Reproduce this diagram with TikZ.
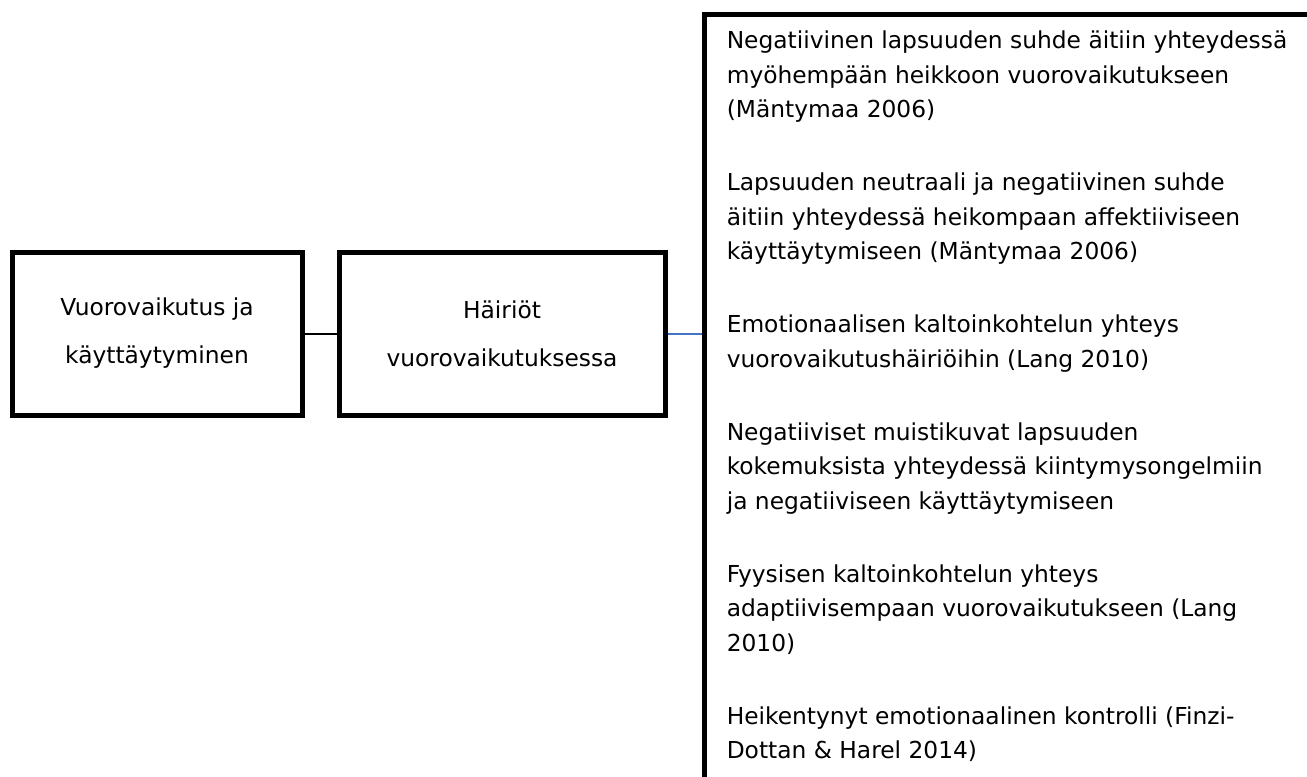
\documentclass[tikz,border=0pt]{standalone}
\usepackage{fontspec}
\setmainfont{DejaVu Sans}
\definecolor{linkblue}{HTML}{4472C4}
\begin{document}
\begin{tikzpicture}[x=0.75pt,y=-0.75pt,
  box/.style={draw, line width=3.75pt, line join=miter, align=center, inner sep=0pt,
    minimum height=122.25pt, font=\fontsize{17.5}{25.875}\selectfont},
  thick border/.style={line width=3.75pt, line cap=rect},
  listtext/.style={align=left, inner sep=0pt, font=\fontsize{17.5}{25.875}\selectfont}]
\useasboundingbox (0,0) rectangle (1307,776);
\node[box, minimum width=217.5pt] (a) at (157,333.5) {Vuorovaikutus ja\\[10.125pt]käyttäytyminen};
\node[box, minimum width=244.5pt] (b) at (502,333.5) {Häiriöt\\[10.125pt]vuorovaikutuksessa};
\coordinate (rb) at (704.5,333.5);
\draw[line width=1.5pt] (a.east) -- (b.west);
\draw[linkblue, line width=1.5pt] (b.east) -- (rb);
\draw[thick border] (704.5,790) -- (704.5,14.5) -- (1320,14.5);
\node[listtext, anchor=north west] (list) at (726.5,30.5) {%
Negatiivinen lapsuuden suhde äitiin yhteydessä\\
myöhempään heikkoon vuorovaikutukseen\\
(Mäntymaa 2006)\\[28.875pt]
Lapsuuden neutraali ja negatiivinen suhde\\
äitiin yhteydessä heikompaan affektiiviseen\\
käyttäytymiseen (Mäntymaa 2006)\\[28.875pt]
Emotionaalisen kaltoinkohtelun yhteys\\
vuorovaikutushäiriöihin (Lang 2010)\\[28.875pt]
Negatiiviset muistikuvat lapsuuden\\
kokemuksista yhteydessä kiintymysongelmiin\\
ja negatiiviseen käyttäytymiseen\\[28.875pt]
Fyysisen kaltoinkohtelun yhteys\\
adaptiivisempaan vuorovaikutukseen (Lang\\
2010)\\[28.875pt]
Heikentynyt emotionaalinen kontrolli (Finzi-\\
Dottan \& Harel 2014)};
\end{tikzpicture}
\end{document}
